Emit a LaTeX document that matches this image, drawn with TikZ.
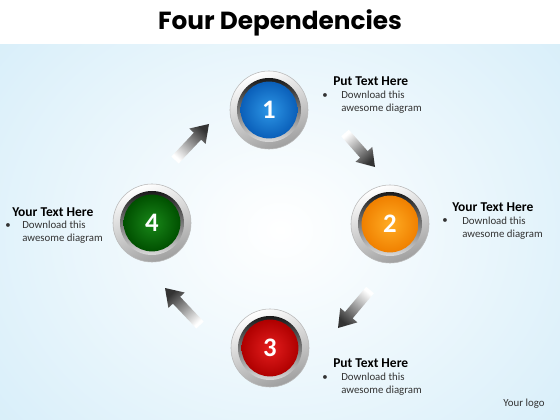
\documentclass[tikz,border=0pt]{standalone}
\usepackage{fontspec}
\setmainfont{Carlito}
\newfontfamily\titlefont{Poppins}
\usetikzlibrary{calc}
\definecolor{bgblue}{RGB}{208,235,248}
\definecolor{onein}{RGB}{45,150,230}
\definecolor{oneout}{RGB}{10,95,185}
\definecolor{twoin}{RGB}{255,172,35}
\definecolor{twoout}{RGB}{240,128,0}
\definecolor{threein}{RGB}{228,30,30}
\definecolor{threeout}{RGB}{175,0,0}
\definecolor{fourin}{RGB}{25,135,25}
\definecolor{fourout}{RGB}{0,80,0}

\begin{document}
\begin{tikzpicture}[x=0.025cm, y=-0.025cm,
  ring/.style={circle, minimum size=1.95cm, inner sep=0pt, draw=gray!55, top color=white, bottom color=gray!75, shading angle=20},
  bezel/.style={circle, minimum size=1.6cm, inner sep=0pt, top color=black!90, bottom color=gray!30},
  disk/.style={circle, minimum size=1.42cm, inner sep=0pt, text=white, font=\bfseries\fontsize{19}{19}\selectfont},
  head/.style={inner sep=0pt, anchor=west, font=\bfseries\fontsize{9.6}{10}\selectfont},
  body/.style={inner sep=0pt, anchor=west, align=left, text=black!80, font=\fontsize{7.7}{9.3}\selectfont},
  dot/.style={inner sep=0pt, text=black!80, font=\fontsize{7.7}{9.3}\selectfont},
  fatarrow/.style={top color=black!80, bottom color=white}]
\useasboundingbox (0,0) rectangle (560,420);

% Background
\fill[white] (0,0) rectangle (560,45);
\begin{scope}
  \clip (0,45) rectangle (560,420);
  \shade[inner color=white, outer color=bgblue] (-160,-140) rectangle (720,600);
\end{scope}

% Title
\node[font=\titlefont\bfseries\fontsize{17.6}{18}\selectfont] (title) at (280,23) {Four Dependencies};

% Circles
\foreach \n/\px/\py/\col in {1/269/110/one, 2/390/224/two, 3/270/348/three, 4/152/223/four} {
  \node[ring] (c\n) at (\px,\py) {};
  \node[bezel] at (c\n) {};
  \node[disk, inner color=\col in, outer color=\col out] (d\n) at (c\n) {\n};
}

% Arrows
\coordinate (a1s) at (175,160); \coordinate (a1e) at (209,124);
\coordinate (a2s) at (345,133); \coordinate (a2e) at (375,167);
\coordinate (a3s) at (370,290); \coordinate (a3e) at (338,328);
\coordinate (a4s) at (200,325); \coordinate (a4e) at (165,288);
\foreach \a/\ang in {1/-43, 2/-139, 3/140, 4/43} {
  \coordinate (h) at ($(a\a e)!0.42cm!(a\a s)$);
  \shade[fatarrow, shading angle=\ang]
    ($(a\a s)!0.125cm!90:(a\a e)$) -- ($(h)!0.125cm!90:(a\a e)$) -- ($(h)!0.28cm!90:(a\a e)$)
    -- (a\a e) -- ($(h)!0.28cm!-90:(a\a e)$) -- ($(h)!0.125cm!-90:(a\a e)$)
    -- ($(a\a s)!0.125cm!-90:(a\a e)$) -- cycle;
}

% Labels
\node[head] (h1) at (333,81) {Put Text Here};
\node[dot] at (325,96) {\textbullet};
\node[body] (b1) at (341,102.5) {Download this\\awesome diagram};

\node[head] (h2) at (452,207) {Your Text Here};
\node[dot] at (445,221) {\textbullet};
\node[body] (b2) at (462,228) {Download this\\awesome diagram};

\node[head] (h4) at (12,212) {Your Text Here};
\node[dot] at (8,226) {\textbullet};
\node[body] (b4) at (22,232.5) {Download this\\awesome diagram};

\node[head] (h3) at (333,363) {Put Text Here};
\node[dot] at (325,378) {\textbullet};
\node[body] (b3) at (341,384.5) {Download this\\awesome diagram};

\node[body, anchor=center] (logo) at (524,404) {Your logo};
\end{tikzpicture}
\end{document}
